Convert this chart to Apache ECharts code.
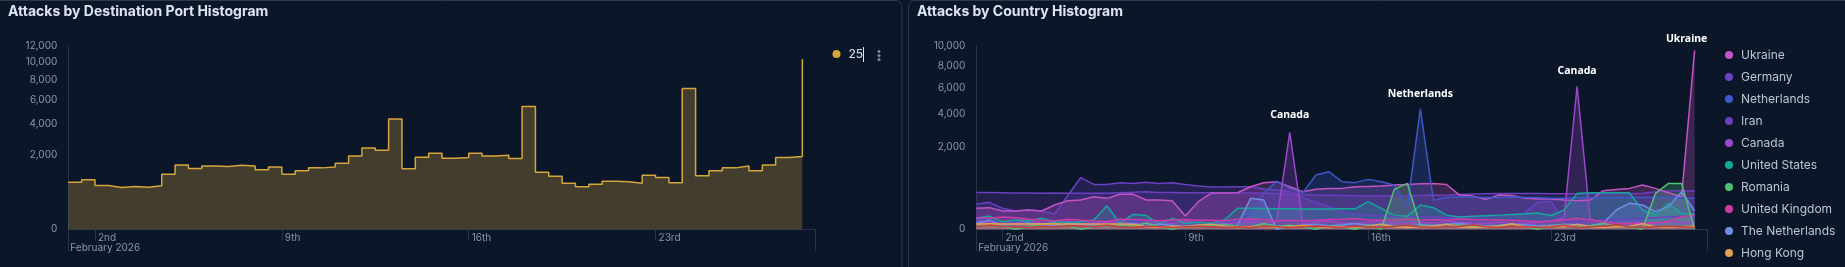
<!DOCTYPE html>
<html><head><meta charset="utf-8">
<script src="https://cdn.jsdelivr.net/npm/echarts@6/dist/echarts.min.js"></script>
<style>html,body{margin:0;padding:0;background:#0b1628;}#c{width:1845px;height:267px;}</style>
</head><body><div id="c"></div>
<script>
// ---------- data ----------
const START = Date.UTC(2026, 1, 1);
const END = Date.UTC(2026, 2, 1);
const STEP_MS = 12 * 3600 * 1000;

const portTitle = 'Attacks by Destination Port Histogram';
const countryTitle = 'Attacks by Country Histogram';
const portSeriesName = '25';
const portValues = [796,877,688,627,657,637,678,1089,1487,1323,1441,1411,1471,1441,1266,1396,1089,1224,1352,1396,1564,1930,2372,2238,4355,1309,1860,2071,1809,1843,2071,1930,1965,1793,5409,1169,1011,763,647,731,831,808,763,1050,961,774,7103,1024,1224,1352,1441,1224,1487,1843,1895,10397];

const countryNames = ['Ukraine','Germany','Netherlands','Iran','Canada','United States','Romania','United Kingdom','The Netherlands','Hong Kong'];
const ukraine = [131,140,100,100,111,100,176,245,256,317,286,365,370,256,256,245,53,228,392,392,400,541,648,676,541,420,480,500,500,541,550,557,585,600,620,629,600,350,330,268,350,340,286,275,275,256,245,256,445,475,500,585,500,400,317,9565];
const germany = [186,217,131,100,111,100,70,340,800,602,602,648,629,660,629,650,602,557,533,533,541,541,485,460,422,300,220,150,90,70,60,55,50,50,45,45,40,40,45,50,55,60,80,217,230,20,15,20,25,30,30,35,40,45,50,55];
const netherlands = [30,35,5,15,20,10,25,5,20,15,10,30,20,25,15,10,20,5,10,15,20,76,385,690,500,400,878,989,676,650,744,676,585,153,4331,250,300,310,310,300,300,310,300,300,290,290,295,300,300,300,300,300,305,300,290,286];
const iran = [405,405,400,395,395,390,395,390,390,390,390,400,410,420,405,405,400,400,400,400,395,395,390,380,370,360,350,345,340,335,330,330,330,335,340,345,350,360,370,380,385,385,385,385,380,380,375,370,370,375,380,390,420,445,445,440];
const canada = [20,15,10,12,25,10,15,20,10,12,15,18,10,12,15,10,20,15,12,10,15,20,10,20,2800,10,15,20,12,10,15,20,10,12,15,10,20,15,12,10,15,12,10,15,20,40,6100,30,15,10,12,15,10,20,12,15];
const unitedStates = [36,52,17,26,20,36,17,14,17,26,165,11,66,57,8,36,10,15,10,26,131,131,128,125,125,122,122,122,125,125,230,131,60,50,176,140,60,45,50,55,60,65,70,80,57,110,385,400,400,400,400,111,61,201,71,71];
const romania = [2,5,3,0,2,8,12,3,0,2,5,4,3,12,2,0,3,2,4,8,3,2,10,3,5,2,0,3,2,0,5,0,476,629,4,3,2,6,3,2,4,8,2,0,3,5,2,4,10,3,2,0,385,629,629,0];
const unitedKingdom = [40,36,45,40,30,25,20,30,25,20,18,30,28,25,22,26,28,25,24,22,30,32,28,20,24,22,24,28,30,35,26,26,25,30,26,28,26,32,28,26,26,24,22,17,20,26,36,26,17,11,10,9,13,17,48,61];
const theNetherlands = [10,25,5,8,12,6,4,10,8,5,3,6,10,4,8,5,3,6,4,2,5,286,256,0,3,5,8,4,6,10,5,8,4,3,6,5,8,10,6,4,5,8,6,4,5,8,6,4,11,111,201,176,93,153,422,100];
const hongKong = [8,9,8,8,8,9,8,8,8,8,8,8,7,2,1,3,2,5,8,3,1,2,3,1,2,5,2,1,2,1,3,8,2,1,2,3,8,2,1,2,3,9,2,1,3,2,8,2,1,2,3,9,2,1,2,3];
const otherLow = [2,5,3,2,1,3,2,4,3,2,5,2,1,3,2,1,2,3,2,1,2,1,3,2,1,2,3,2,1,3,2,1,3,5,2,1,2,3,6,2,1,3,2,1,2,5,1,2,3,6,2,1,2,3,2,1];

const portYTicks = [0,2000,4000,6000,8000,10000,12000];
const countryYTicks = [0,2000,4000,6000,8000,10000];
const dayTickDates = ['2026-02-02','2026-02-09','2026-02-16','2026-02-23'];
const dayTickLabels = ['2nd','9th','16th','23rd'];
const monthLabel = 'February 2026';
const annotations = [
  {series:'Canada', index:24, text:'Canada', dist:11, dx:0},
  {series:'Netherlands', index:34, text:'Netherlands', dist:9, dx:0},
  {series:'Canada', index:46, text:'Canada', dist:9, dx:0},
  {series:'Ukraine', index:55, text:'Ukraine', dist:5, dx:-8}
];

// ---------- build ----------
const times = portValues.map((_, i) => START + i * STEP_MS);
const dayTicks = dayTickDates.map(d => Date.parse(d + 'T00:00:00Z'));
const sq = Math.sqrt;
const AXIS_COL = '#2a3446';
const LABEL_COL = '#8b96a8';
const FONT = 'Inter';

const countrySeriesDefs = [
  {name:'Iran', data:iran, color:'#6b3fbf'},
  {name:'Germany', data:germany, color:'#6a40c4'},
  {name:'Ukraine', data:ukraine, color:'#c454c6'},
  {name:'Netherlands', data:netherlands, color:'#3e57c9'},
  {name:'Canada', data:canada, color:'#9b47cc'},
  {name:'United States', data:unitedStates, color:'#12a89c'},
  {name:'The Netherlands', data:theNetherlands, color:'#6d8ee2'},
  {name:'United Kingdom', data:unitedKingdom, color:'#cc3ba6'},
  {name:'Romania', data:romania, color:'#50c078'},
  {name:'Hong Kong', data:hongKong, color:'#e2a052'},
  {name:'other', data:otherLow, color:'#c43c3c'}
];

function yAxis(grid, maxV, ticks) {
  return {
    type:'value', gridIndex:grid, min:0, max:sq(maxV),
    axisLine:{show:true, lineStyle:{color:AXIS_COL, width:1}},
    axisTick:{show:false}, splitLine:{show:false},
    axisLabel:{customValues:ticks.map(sq), formatter:v => Math.round(v*v).toLocaleString('en-US'),
      color:LABEL_COL, fontSize:10, fontFamily:FONT, margin:11}
  };
}
function dayAxis(grid) {
  return {
    type:'value', gridIndex:grid, position:'bottom', min:START, max:END,
    axisLine:{show:true, onZero:false, lineStyle:{color:AXIS_COL, width:1}},
    axisTick:{show:true, customValues:dayTicks, length:11, lineStyle:{color:AXIS_COL}},
    splitLine:{show:false},
    axisLabel:{customValues:dayTicks, formatter:v => { const k = dayTicks.indexOf(v); return k >= 0 ? dayTickLabels[k] : ''; },
      align:'left', padding:[0,0,0,3], margin:4, color:LABEL_COL, fontSize:10, fontFamily:FONT}
  };
}
function monthAxis(grid) {
  return {
    type:'value', gridIndex:grid, position:'bottom', min:START, max:END,
    axisLine:{show:false, onZero:false},
    axisTick:{show:true, customValues:[START, END], length:22, lineStyle:{color:AXIS_COL}},
    splitLine:{show:false},
    axisLabel:{customValues:[START], formatter:v => v === START ? monthLabel : '',
      align:'left', padding:[0,0,0,2], margin:14, color:LABEL_COL, fontSize:10, fontFamily:FONT}
  };
}

const series = [{
  name:portSeriesName, type:'line', step:'end', xAxisIndex:0, yAxisIndex:0,
  data:portValues.map((v,i) => [times[i], sq(v)]),
  showSymbol:false, symbol:'none',
  lineStyle:{color:'#d6a63c', width:1.5}, itemStyle:{color:'#d6a63c'},
  areaStyle:{color:'#d6a63c', opacity:0.27}
}];
countrySeriesDefs.forEach(d => {
  const ann = annotations.filter(a => a.series === d.name);
  const s = {
    name:d.name, type:'line', xAxisIndex:2, yAxisIndex:1,
    data:d.data.map((v,i) => [times[i], sq(v)]),
    showSymbol:false, symbol:'none',
    lineStyle:{color:d.color, width:1.5}, itemStyle:{color:d.color},
    areaStyle:{color:d.color, opacity:0.26}
  };
  if (ann.length) {
    s.markPoint = {
      symbol:'circle', symbolSize:1, itemStyle:{color:'rgba(0,0,0,0)'},
      data: ann.map(a => ({name:a.text, coord:[times[a.index], sq(d.data[a.index])],
        label:{show:true, position:'top', distance:a.dist, offset:[a.dx,0], formatter:a.text,
          color:'#ffffff', fontWeight:'bold', fontSize:10.5, fontFamily:'Noto Sans'}}))
    };
  }
  series.push(s);
});

const option = {
  backgroundColor:'#0b1628',
  animation:false,
  title:[
    {text:portTitle, left:8, top:5, padding:0, textStyle:{color:'#dde4ef', fontSize:14, fontWeight:'bold', fontFamily:FONT}},
    {text:countryTitle, left:917, top:5, padding:0, textStyle:{color:'#dde4ef', fontSize:14, fontWeight:'bold', fontFamily:FONT}}
  ],
  grid:[
    {left:68.3, width:747.4, top:46.3, height:183, containLabel:false},
    {left:976.3, width:731.4, top:46.3, height:183, containLabel:false}
  ],
  xAxis:[dayAxis(0), monthAxis(0), dayAxis(1), monthAxis(1)],
  yAxis:[yAxis(0, 12000, portYTicks), yAxis(1, 10000, countryYTicks)],
  legend:[
    {data:[portSeriesName], orient:'vertical', left:832.5, top:47, padding:0, icon:'circle', itemWidth:8, itemHeight:8,
     textStyle:{color:'#dfe5ef', fontSize:12, fontFamily:FONT, padding:[0,0,0,3], lineHeight:14}, selectedMode:false},
    {data:countryNames, orient:'vertical', left:1725, top:48, padding:0, icon:'circle', itemWidth:8, itemHeight:8, itemGap:8,
     textStyle:{color:'#bcc5d3', fontSize:12, fontFamily:FONT, padding:[0,0,0,3], lineHeight:14}, selectedMode:false}
  ],
  graphic:[
    {type:'rect', shape:{x:-10, y:0.5, width:912, height:290, r:6}, style:{fill:null, stroke:'#2e384b', lineWidth:1}, silent:true},
    {type:'rect', shape:{x:908.5, y:0.5, width:950, height:290, r:6}, style:{fill:null, stroke:'#2e384b', lineWidth:1}, silent:true},
    {type:'line', shape:{x1:863.5, y1:47, x2:863.5, y2:62}, style:{stroke:'#e2e8f0', lineWidth:1}, silent:true},
    {type:'circle', shape:{cx:879, cy:51.5, r:1.5}, style:{fill:'#7f8a9c'}, silent:true},
    {type:'circle', shape:{cx:879, cy:55.5, r:1.5}, style:{fill:'#7f8a9c'}, silent:true},
    {type:'circle', shape:{cx:879, cy:59.5, r:1.5}, style:{fill:'#7f8a9c'}, silent:true}
  ],
  series:series
};
echarts.init(document.getElementById('c')).setOption(option);
</script></body></html>
